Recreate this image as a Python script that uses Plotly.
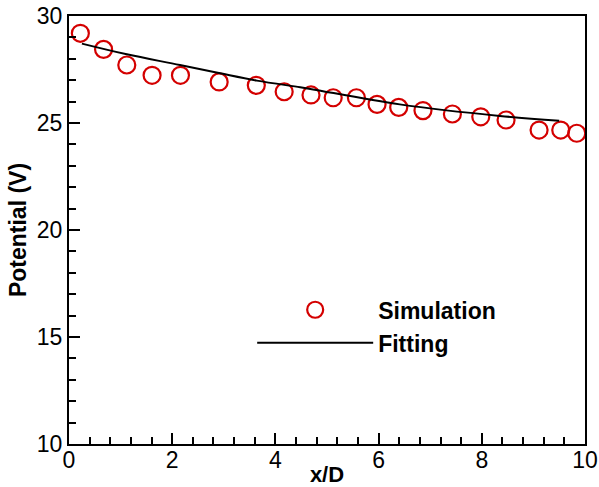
import plotly.graph_objects as go

# Simulation data
sim_x = [0.22, 0.67, 1.12, 1.61, 2.16, 2.91, 3.63, 4.17, 4.69, 5.12, 5.57, 5.97,
         6.39, 6.86, 7.43, 7.98, 8.47, 9.11, 9.53, 9.84]
sim_y = [29.19, 28.44, 27.71, 27.23, 27.23, 26.92, 26.76, 26.46, 26.31, 26.18,
         26.18, 25.87, 25.73, 25.58, 25.42, 25.29, 25.14, 24.67, 24.67, 24.52]

# Fitting curve samples
fit_x = [0.25, 1.12, 2.15, 2.93, 3.64, 4.48, 4.73, 6.41, 8.35, 9.5]
fit_y = [28.71, 28.21, 27.71, 27.32, 26.98, 26.67, 26.57, 25.87, 25.33, 25.11]

x_ticks = [0, 2, 4, 6, 8, 10]
y_ticks = [10, 15, 20, 25, 30]

FONT = "Liberation Sans, Arial, sans-serif"

fig = go.Figure()
fig.add_trace(go.Scatter(
    x=sim_x, y=sim_y, mode="markers", name="<b>Simulation</b>",
    marker=dict(symbol="circle-open", size=17, color="#d40000",
                line=dict(width=2.2, color="#d40000")),
))
fig.add_trace(go.Scatter(
    x=fit_x, y=fit_y, mode="lines", name="<b>Fitting</b>", line_shape="spline",
    line=dict(color="black", width=2),
))

axis_common = dict(
    showgrid=False, zeroline=False, showline=True, linecolor="black",
    linewidth=2, mirror=True, ticks="inside", ticklen=11, tickwidth=2,
    tickcolor="black", automargin=False, ticklabeloverflow="allow",
    tickfont=dict(family=FONT, size=23, color="black"),
)

fig.update_xaxes(
    range=[0, 10], tickvals=x_ticks, ticktext=[str(v) for v in x_ticks],
    minor=dict(ticks="inside", dtick=0.4, tick0=0, ticklen=7, tickwidth=1.5,
               tickcolor="black", showgrid=False),
    title=dict(text="<b>x/D</b>", font=dict(family=FONT, size=22, color="black"),
               standoff=2),
    ticklabelstandoff=-6,
    **axis_common,
)
fig.update_yaxes(
    range=[10, 30], tickvals=y_ticks, ticktext=[str(v) for v in y_ticks],
    minor=dict(ticks="inside", dtick=1, tick0=10, ticklen=7, tickwidth=1.5,
               tickcolor="black", showgrid=False),
    title=dict(text="<b>Potential (V)</b>",
               font=dict(family=FONT, size=23, color="black"), standoff=4),
    **axis_common,
)

fig.update_layout(
    width=599, height=487,
    margin=dict(l=69, r=14, t=16, b=43),
    paper_bgcolor="white", plot_bgcolor="white",
    showlegend=True,
    legend=dict(
        x=0.355, y=0.275, xanchor="left", yanchor="middle",
        bgcolor="rgba(0,0,0,0)", borderwidth=0,
        font=dict(family=FONT, size=23, color="black"),
        itemwidth=116, tracegroupgap=0,
    ),
)

# remove the page's default body margin so the figure fills the window exactly
fig.write_html(
    "out.html",
    config={"displayModeBar": False},
    post_script="document.body.style.margin='0';document.body.style.overflow='hidden';",
)
